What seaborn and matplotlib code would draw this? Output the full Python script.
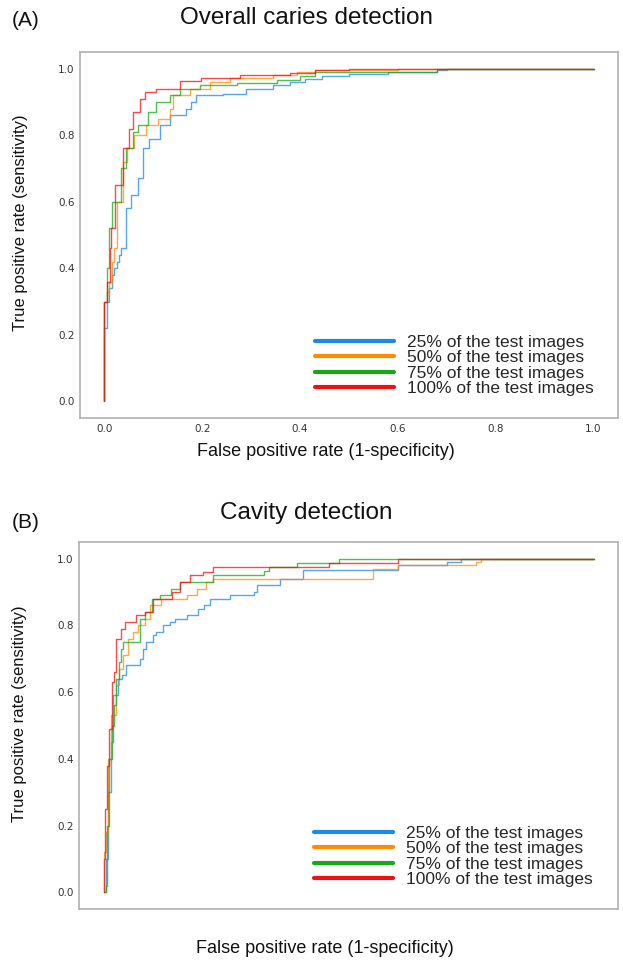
import numpy as np
import pandas as pd
import seaborn as sns
import matplotlib
matplotlib.use("Agg")
import matplotlib.pyplot as plt
from matplotlib.lines import Line2D

# ---------------- data ----------------
labels = ["25% of the test images", "50% of the test images",
          "75% of the test images", "100% of the test images"]
colors = ["#1E88E5", "#FF8C00", "#17A817", "#F01010"]

# Panel A: overall caries detection (fpr, tpr) step points
a25_fpr = [0.0, 0.0, 0.005, 0.010, 0.015, 0.020, 0.025, 0.030, 0.034, 0.044, 0.055, 0.068, 0.078, 0.092, 0.113, 0.133, 0.167, 0.177, 0.188, 0.242, 0.290, 0.344, 0.379, 0.410, 0.445, 0.50, 0.58, 0.68, 0.70, 1.0]
a25_tpr = [0.0, 0.22, 0.30, 0.34, 0.38, 0.40, 0.42, 0.44, 0.46, 0.58, 0.62, 0.67, 0.76, 0.79, 0.83, 0.86, 0.88, 0.90, 0.92, 0.925, 0.94, 0.95, 0.96, 0.97, 0.978, 0.985, 0.99, 0.995, 1.0, 1.0]

a50_fpr = [0.0, 0.0, 0.005, 0.010, 0.015, 0.020, 0.025, 0.038, 0.047, 0.060, 0.085, 0.109, 0.133, 0.140, 0.174, 0.215, 0.256, 0.344, 0.393, 0.43, 0.60, 1.0]
a50_tpr = [0.0, 0.30, 0.33, 0.36, 0.42, 0.46, 0.60, 0.72, 0.76, 0.80, 0.83, 0.85, 0.88, 0.92, 0.94, 0.96, 0.972, 0.982, 0.99, 0.995, 1.0, 1.0]

a75_fpr = [0.0, 0.0, 0.005, 0.010, 0.0147, 0.034, 0.044, 0.058, 0.068, 0.089, 0.106, 0.133, 0.154, 0.195, 0.270, 0.352, 0.400, 0.43, 0.68, 1.0]
a75_tpr = [0.0, 0.30, 0.40, 0.52, 0.60, 0.70, 0.76, 0.81, 0.83, 0.87, 0.90, 0.92, 0.94, 0.95, 0.957, 0.967, 0.977, 0.99, 1.0, 1.0]

a100_fpr = [0.0, 0.0, 0.005, 0.012, 0.013, 0.0225, 0.0375, 0.050, 0.058, 0.072, 0.082, 0.106, 0.154, 0.197, 0.277, 0.379, 0.43, 0.50, 1.0]
a100_tpr = [0.0, 0.30, 0.36, 0.46, 0.52, 0.65, 0.76, 0.82, 0.87, 0.91, 0.93, 0.94, 0.962, 0.972, 0.98, 0.987, 0.995, 1.0, 1.0]

# Panel B: cavity detection (fpr, tpr) step points
b25_fpr = [0.0, 0.005, 0.010, 0.015, 0.020, 0.030, 0.038, 0.046, 0.074, 0.080, 0.087, 0.100, 0.107, 0.122, 0.135, 0.145, 0.170, 0.193, 0.205, 0.217, 0.258, 0.307, 0.313, 0.360, 0.398, 0.408, 0.60, 0.70, 0.73, 1.0]
b25_tpr = [0.0, 0.10, 0.30, 0.45, 0.59, 0.64, 0.65, 0.68, 0.70, 0.73, 0.75, 0.77, 0.78, 0.80, 0.81, 0.82, 0.83, 0.85, 0.86, 0.88, 0.89, 0.90, 0.92, 0.94, 0.94, 0.967, 0.98, 0.99, 1.0, 1.0]

b50_fpr = [0.0, 0.0, 0.005, 0.010, 0.015, 0.025, 0.032, 0.040, 0.050, 0.060, 0.070, 0.084, 0.095, 0.118, 0.170, 0.190, 0.210, 0.224, 0.55, 0.60, 0.76, 0.77, 1.0]
b50_tpr = [0.0, 0.12, 0.18, 0.40, 0.53, 0.62, 0.67, 0.71, 0.76, 0.78, 0.80, 0.82, 0.86, 0.88, 0.89, 0.91, 0.93, 0.94, 0.97, 0.98, 0.99, 1.0, 1.0]

b75_fpr = [0.0, 0.005, 0.008, 0.012, 0.018, 0.022, 0.026, 0.031, 0.036, 0.040, 0.074, 0.084, 0.098, 0.115, 0.138, 0.156, 0.224, 0.327, 0.337, 0.395, 0.48, 1.0]
b75_tpr = [0.0, 0.02, 0.20, 0.40, 0.50, 0.56, 0.64, 0.69, 0.73, 0.75, 0.82, 0.84, 0.88, 0.89, 0.91, 0.93, 0.95, 0.962, 0.975, 0.987, 1.0, 1.0]

b100_fpr = [0.0, 0.0, 0.004, 0.008, 0.012, 0.018, 0.021, 0.025, 0.036, 0.043, 0.067, 0.084, 0.101, 0.139, 0.156, 0.176, 0.203, 0.224, 0.46, 0.60, 1.0]
b100_tpr = [0.0, 0.10, 0.25, 0.38, 0.49, 0.63, 0.66, 0.76, 0.79, 0.81, 0.83, 0.84, 0.88, 0.90, 0.93, 0.95, 0.96, 0.975, 0.987, 1.0, 1.0]

panel_a = [(a25_fpr, a25_tpr), (a50_fpr, a50_tpr), (a75_fpr, a75_tpr), (a100_fpr, a100_tpr)]
panel_b = [(b25_fpr, b25_tpr), (b50_fpr, b50_tpr), (b75_fpr, b75_tpr), (b100_fpr, b100_tpr)]

ticks = [0.0, 0.2, 0.4, 0.6, 0.8, 1.0]
tick_labels = ["0.0", "0.2", "0.4", "0.6", "0.8", "1.0"]


def to_frame(curves):
    rows = []
    for lab, (f, t) in zip(labels, curves):
        for x, y in zip(f, t):
            rows.append({"fpr": x, "tpr": y, "series": lab})
    return pd.DataFrame(rows)


sns.set_style("white")
plt.rcParams["font.family"] = ["Liberation Sans", "DejaVu Sans"]

W, H = 623, 969
fig = plt.figure(figsize=(W / 100, H / 100), dpi=100)
ax_a = fig.add_axes([80 / W, 1 - 418 / H, 538 / W, 366 / H])
ax_b = fig.add_axes([79 / W, 1 - 909 / H, 539 / W, 367 / H])

panels = [
    (ax_a, panel_a, "Overall caries detection", "(A)", 18, 20, True, -0.068),
    (ax_b, panel_b, "Cavity detection", "(B)", 513, 523, False, -0.085),
]

for ax, curves, title, tag, ty, tagy, show_xt, xl_y in panels:
    df = to_frame(curves)
    sns.lineplot(data=df, x="fpr", y="tpr", hue="series", palette=colors,
                 hue_order=labels, estimator=None, sort=False,
                 drawstyle="steps-post", linewidth=1.0, alpha=0.75,
                 legend=False, ax=ax)
    ax.set_xlim(-0.05, 1.05)
    ax.set_ylim(-0.05, 1.05)
    ax.set_xticks(ticks)
    if show_xt:
        ax.set_xticklabels(tick_labels, family="DejaVu Sans", fontsize=7.5, color="#333333")
    else:
        ax.set_xticklabels([])
    ax.set_yticks(ticks)
    ax.set_yticklabels(tick_labels, family="DejaVu Sans", fontsize=7.5, color="#333333")
    ax.tick_params(length=2.5, width=0.6, color="#666666", pad=1.5)
    for s in ax.spines.values():
        s.set_color("#b0b0b0")
        s.set_linewidth(1.2)
    ax.set_xlabel("False positive rate (1-specificity)", fontsize=13, color="#111111", va="top")
    ax.xaxis.set_label_coords(0.457, xl_y)
    ax.set_ylabel("True positive rate (sensitivity)", fontsize=12, color="#111111")
    ax.yaxis.set_label_coords(-0.097, 0.533)
    fig.text(306 / W, 1 - ty / H, title, fontsize=17.5, color="#111111",
             ha="center", va="center")
    fig.text(26 / W, 1 - tagy / H, tag, fontsize=15, color="#111111",
             ha="center", va="center")
    handles = [Line2D([], [], color=c, lw=3) for c in colors]
    ax.legend(handles, labels, loc="lower left", bbox_to_anchor=(0.424, 0.04),
              frameon=False, fontsize=12.5, handlelength=4.55, handletextpad=0.75,
              labelspacing=0.02, borderaxespad=0.0)

fig.savefig("out.png", dpi=100)
